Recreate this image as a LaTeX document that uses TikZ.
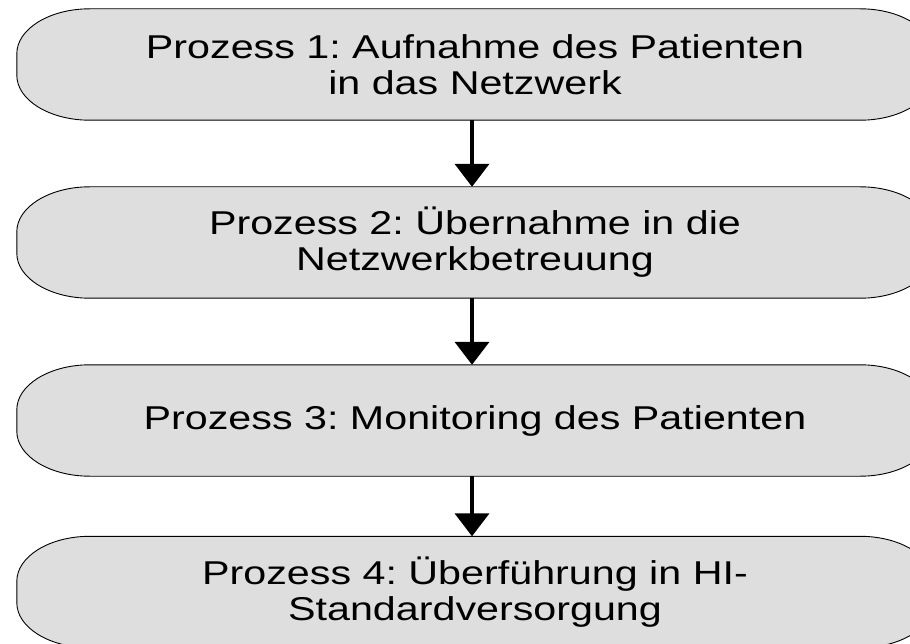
\documentclass[tikz,border=0pt]{standalone}
\usepackage{fontspec}
\setmainfont{Liberation Sans}[FakeStretch=1.25]
\usetikzlibrary{arrows.meta,backgrounds}
\definecolor{boxgray}{RGB}{222,222,222}
\frenchspacing
\tikzset{
  procnode/.style={minimum width=916pt, minimum height=111pt, inner sep=0pt,
    align=center, font=\fontsize{33}{36}\selectfont},
  procshape/.style={fill=boxgray, draw=black, line width=0.9pt},
  flowarrow/.style={line width=4pt, -{Triangle[width=34pt,length=23pt]}}
}
% rounded-end process box drawn around a named node
\newcommand\procoutline[1]{%
  \path[procshape] ([xshift=73pt]#1.north west) -- ([xshift=-73pt]#1.north east)
    arc[start angle=90,end angle=0,x radius=73pt,y radius=45pt]
    -- ([yshift=45pt]#1.south east)
    arc[start angle=0,end angle=-90,x radius=73pt,y radius=45pt]
    -- ([xshift=73pt]#1.south west)
    arc[start angle=270,end angle=180,x radius=73pt,y radius=45pt]
    -- ([yshift=-45pt]#1.north west)
    arc[start angle=180,end angle=90,x radius=73pt,y radius=45pt] -- cycle;}
\begin{document}
\begin{tikzpicture}[x=1pt,y=1pt]
  \useasboundingbox (0,0) rectangle (910,-644);
  \clip (0,0) rectangle (910,-644);
  \node[procnode] (p1) at (475,-64.5) {Prozess 1: Aufnahme des Patienten\\in das Netzwerk};
  \node[procnode] (p2) at (475,-242.5) {Prozess 2: Übernahme in die\\Netzwerkbetreuung};
  \node[procnode] (p3) at (475,-420.5) {Prozess 3: Monitoring des Patienten};
  \node[procnode] (p4) at (475,-592) {Prozess 4: Überführung in HI-\\Standardversorgung};
  \begin{scope}[on background layer]
    \procoutline{p1}
    \procoutline{p2}
    \procoutline{p3}
    \procoutline{p4}
  \end{scope}
  \draw[flowarrow] ([xshift=-3pt]p1.south) -- ([xshift=-3pt]p2.north);
  \draw[flowarrow] ([xshift=-3pt]p2.south) -- ([xshift=-3pt]p3.north);
  \draw[flowarrow] ([xshift=-3pt]p3.south) -- ([xshift=-3pt]p4.north);
\end{tikzpicture}
\end{document}
